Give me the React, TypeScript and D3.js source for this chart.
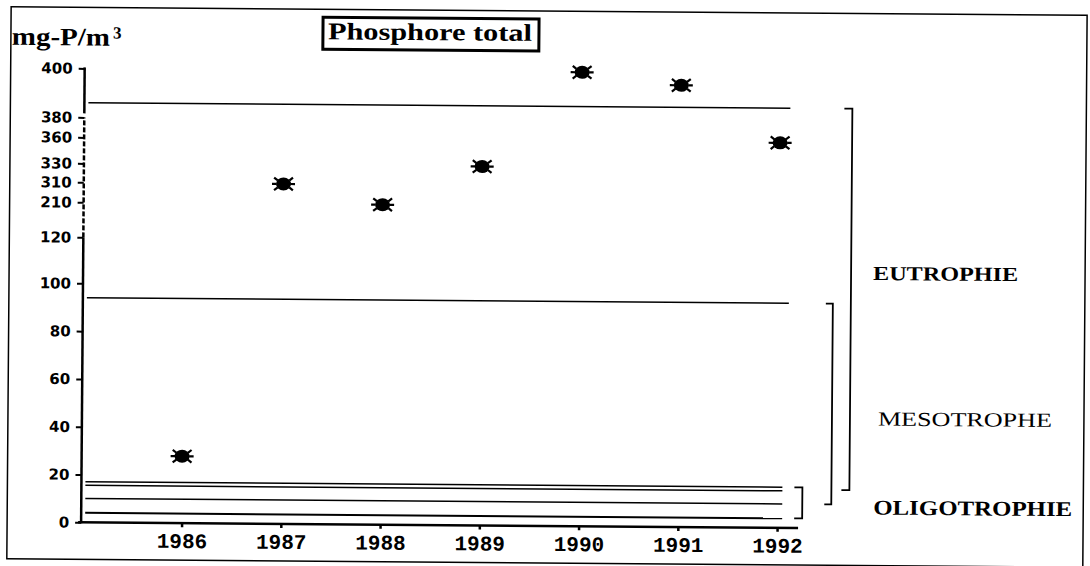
import React, { useEffect, useRef } from 'react';
import * as d3 from 'd3';

const width = 1090;
const height = 566;

// total phosphorus, one reading per year
const years = [1986, 1987, 1988, 1989, 1990, 1991, 1992];
const phosphore = [28, 310, 210, 330, 400, 395, 360];

// the y axis is broken: linear up to 100, then squeezed
const yBreaks = [0, 100, 120, 210, 310, 330, 360, 380, 400];
const yTicks = [0, 20, 40, 60, 80, 100, 120, 210, 310, 330, 360, 380, 400];

// horizontal limit lines
const limits = [386, 94, 17, 15.5, 10, 4];

// trophic classes and the span of each bracket
const classes = ['EUTROPHIE', 'MESOTROPHE', 'OLIGOTROPHIE'];
const classLo = [16, 10, 4];
const classHi = [386, 94, 17];

export default function App() {
  const ref = useRef<SVGSVGElement>(null);

  useEffect(() => {
    const svg = d3.select(ref.current);
    svg.selectAll('*').remove();

    // the scan is tilted a little clockwise
    const g = svg.append('g').attr('transform', 'rotate(0.45,545,283)');

    const serif = '"Liberation Serif", "Times New Roman", serif';
    const sans = '"DejaVu Sans", sans-serif';
    const mono = '"Liberation Mono", "Courier New", monospace';

    g.append('rect')
      .attr('x', 9).attr('y', 11)
      .attr('width', 1076).attr('height', 552)
      .attr('fill', 'none').attr('stroke', '#000').attr('stroke-width', 1.5);

    const x = d3.scaleLinear()
      .domain([years[0], years[years.length - 1]])
      .range([183.5, 779]);

    const y = d3.scaleLinear()
      .domain(yBreaks)
      .range([526, 287, 241, 206, 186, 167, 141, 121, 72]);

    const axisX = 83;

    // limit lines
    g.selectAll('line.limit')
      .data(limits)
      .join('line')
      .attr('class', 'limit')
      .attr('x1', 87)
      .attr('x2', d => (d > 50 ? 789 : 784))
      .attr('y1', d => y(d))
      .attr('y2', d => y(d))
      .attr('stroke', '#000')
      .attr('stroke-width', d => (d === 4 ? 2 : 1.5));

    // y axis, dashed where the scale is broken
    g.append('line')
      .attr('x1', axisX).attr('x2', axisX)
      .attr('y1', y(0) + 1).attr('y2', y(120))
      .attr('stroke', '#000').attr('stroke-width', 2.5);
    g.append('line')
      .attr('x1', axisX).attr('x2', axisX)
      .attr('y1', y(120)).attr('y2', y(380))
      .attr('stroke', '#000').attr('stroke-width', 2.5)
      .attr('stroke-dasharray', '5,2');
    g.append('line')
      .attr('x1', axisX).attr('x2', axisX)
      .attr('y1', y(380) - 4).attr('y2', y(400) - 1)
      .attr('stroke', '#000').attr('stroke-width', 2.5);

    const yAxis = g.append('g')
      .attr('transform', `translate(${axisX},0)`)
      .call(d3.axisLeft(y).tickValues(yTicks).tickSize(6).tickPadding(6).tickFormat(d3.format('d')));
    yAxis.select('.domain').remove();
    yAxis.selectAll('line').attr('stroke', '#000').attr('stroke-width', 2);
    yAxis.selectAll('text')
      .attr('fill', '#000')
      .style('font-family', sans)
      .style('font-size', '15px')
      .style('font-weight', 'bold');

    // x axis
    g.append('line')
      .attr('x1', 80).attr('x2', 800)
      .attr('y1', y(0)).attr('y2', y(0))
      .attr('stroke', '#000').attr('stroke-width', 2.5);

    const xAxis = g.append('g')
      .attr('transform', `translate(0,${y(0)})`)
      .call(d3.axisBottom(x).tickValues(years).tickSize(4).tickPadding(6).tickFormat(d3.format('d')));
    xAxis.select('.domain').remove();
    xAxis.selectAll('line').attr('stroke', '#000').attr('stroke-width', 2.5);
    xAxis.selectAll('text')
      .attr('fill', '#000')
      .style('font-family', mono)
      .style('font-size', '21px')
      .style('font-weight', 'bold');

    // points
    const pts = g.selectAll('g.pt')
      .data(phosphore)
      .join('g')
      .attr('class', 'pt')
      .attr('transform', (d, i) => `translate(${x(years[i])},${y(d)})`);
    pts.append('ellipse').attr('rx', 7.5).attr('ry', 6.5).attr('fill', '#000');
    const legs = [0, 35, 145, 180, 215, 325];
    pts.selectAll('line')
      .data(legs)
      .join('line')
      .attr('x1', a => 7 * Math.cos((a * Math.PI) / 180))
      .attr('y1', a => 6 * Math.sin((a * Math.PI) / 180))
      .attr('x2', a => 11.5 * Math.cos((a * Math.PI) / 180))
      .attr('y2', a => 11 * Math.sin((a * Math.PI) / 180))
      .attr('stroke', '#000')
      .attr('stroke-width', 2.2);

    // brackets
    const bracketX = [851, 833, 804];
    const bracketTick = [8, 7, 8];
    g.selectAll('path.bracket')
      .data(classes)
      .join('path')
      .attr('class', 'bracket')
      .attr('d', (d, i) => {
        const bx = bracketX[i];
        const t = bracketTick[i];
        return `M${bx - t},${y(classHi[i])}H${bx}V${y(classLo[i])}H${bx - t}`;
      })
      .attr('fill', 'none')
      .attr('stroke', '#000')
      .attr('stroke-width', 1.8);

    // class labels
    const labelX = [873, 879, 875];
    const labelY = [277.5, 423, 512];
    const labelW = [145, 174, 199];
    const labelSize = [20, 20, 21];
    const labelWeight = ['bold', 'normal', '900'];
    g.selectAll('text.cls')
      .data(classes)
      .join('text')
      .attr('class', 'cls')
      .attr('x', (d, i) => labelX[i])
      .attr('y', (d, i) => labelY[i])
      .attr('textLength', (d, i) => labelW[i])
      .attr('lengthAdjust', 'spacingAndGlyphs')
      .style('font-family', serif)
      .style('font-size', (d, i) => `${labelSize[i]}px`)
      .style('font-weight', (d, i) => labelWeight[i])
      .attr('fill', '#000')
      .text(d => d);

    // title box
    g.append('rect')
      .attr('x', 321).attr('y', 19)
      .attr('width', 216).attr('height', 32)
      .attr('fill', '#fff').attr('stroke', '#000').attr('stroke-width', 3);
    g.append('text')
      .attr('x', 326).attr('y', 41)
      .attr('textLength', 204)
      .attr('lengthAdjust', 'spacingAndGlyphs')
      .style('font-family', serif)
      .style('font-size', '24px')
      .style('font-weight', 'bold')
      .text('Phosphore total');

    // unit
    const unit = g.append('text')
      .attr('x', 10).attr('y', 49)
      .style('font-family', serif)
      .style('font-weight', 'bold');
    unit.append('tspan')
      .attr('textLength', 98)
      .attr('lengthAdjust', 'spacingAndGlyphs')
      .style('font-size', '25px')
      .text('mg-P/m');
    unit.append('tspan')
      .attr('x', 111).attr('y', 42)
      .style('font-size', '17px')
      .text('3');
  }, []);

  return (
    <svg
      ref={ref}
      width={width}
      height={height}
      style={{ position: 'absolute', left: 0, top: 0, background: '#fff' }}
    />
  );
}
